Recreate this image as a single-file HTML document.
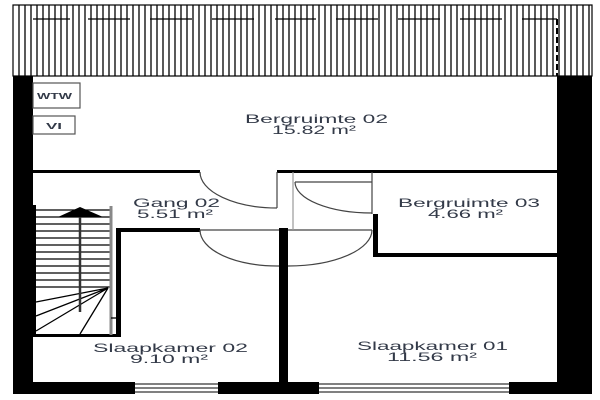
<!DOCTYPE html><html><head><style>body{margin:0;background:#fff}svg{display:block}text{font-family:"Liberation Sans",sans-serif;font-size:12px;fill:#333a48}</style></head><body>
<svg width="600" height="400" viewBox="0 0 600 400" xmlns="http://www.w3.org/2000/svg">
<rect x="0" y="0" width="600" height="400" fill="#fff"/>
<g stroke="#000" stroke-width="1.2" fill="none">
<rect x="13" y="5" width="579" height="71"/>
</g>
<g stroke="#000" stroke-width="1.3">
<path d="M19 5V76M25 5V76M31 5V76M37 5V76M43 5V76M49 5V76M55 5V76M61 5V76M67 5V76M73 5V76M79 5V76M85 5V76M91 5V76M97 5V76M103 5V76M109 5V76M115 5V76M121 5V76M127 5V76M133 5V76M139 5V76M145 5V76M151 5V76M157 5V76M163 5V76M169 5V76M175 5V76M181 5V76M187 5V76M193 5V76M199 5V76M205 5V76M211 5V76M217 5V76M223 5V76M229 5V76M235 5V76M241 5V76M247 5V76M253 5V76M259 5V76M265 5V76M271 5V76M277 5V76M283 5V76M289 5V76M295 5V76M301 5V76M307 5V76M313 5V76M319 5V76M325 5V76M331 5V76M337 5V76M343 5V76M349 5V76M355 5V76M361 5V76M367 5V76M373 5V76M379 5V76M385 5V76M391 5V76M397 5V76M403 5V76M409 5V76M415 5V76M421 5V76M427 5V76M433 5V76M439 5V76M445 5V76M451 5V76M457 5V76M463 5V76M469 5V76M475 5V76M481 5V76M487 5V76M493 5V76M499 5V76M505 5V76M511 5V76M517 5V76M523 5V76M529 5V76M535 5V76M541 5V76M547 5V76M553 5V76M559 5V76M565 5V76M571 5V76M577 5V76M583 5V76M589 5V76"/>
<path d="M33 19H70M88 19H130M150 19H192M212 19H254M275 19H316M336 19H378M398 19H440M460 19H502M522 19H557" />
<path d="M557 19V76" stroke-dasharray="6 3" stroke-width="2"/>
</g>
<rect x="13" y="76" width="20" height="316" fill="#000"/>
<rect x="557" y="76" width="35" height="316" fill="#000"/>
<rect x="13" y="382" width="122" height="12" fill="#000"/>
<rect x="218" y="382" width="101" height="12" fill="#000"/>
<rect x="509" y="382" width="83" height="12" fill="#000"/>
<g stroke="#000" stroke-width="1" fill="none">
<path d="M135 384H218M135 388H218M135 392H218M319 384H509M319 388H509M319 392H509"/>
</g>
<g stroke="#555" stroke-width="1.2" fill="#fff">
<rect x="33" y="83" width="47" height="25"/>
<rect x="33" y="116" width="42" height="18"/>
</g>
<text x="37" y="99" style="font-size:8px;font-weight:bold" textLength="35" lengthAdjust="spacingAndGlyphs">WTW</text>
<text x="46" y="129" style="font-size:8px;font-weight:bold" textLength="16" lengthAdjust="spacingAndGlyphs">VI</text>
<g fill="#000">
<rect x="33" y="170" width="167" height="3"/>
<rect x="277" y="170" width="280" height="3"/>
<rect x="373" y="170" width="4" height="3"/>
<rect x="118" y="228" width="82" height="4"/>
<rect x="116" y="228" width="5" height="109"/>
<rect x="33" y="334" width="88" height="3"/>
<rect x="279" y="228" width="9" height="156"/>
<rect x="373" y="214" width="5" height="42"/>
<rect x="373" y="253" width="184" height="4"/>
<rect x="33" y="205" width="3" height="130"/>
</g>
<g stroke="#444" stroke-width="1.2" fill="none">
<path d="M277 172V208M200 172A77 36 0 0 0 277 208"/>
<path d="M295 182H372M372 172V214M295 182A77 31 0 0 0 372 213"/>
<path d="M200 230H279M200 230A77 36 0 0 0 279 266"/>
<path d="M288 230H372M372 230A84 36 0 0 1 288 266"/>
<path d="M293 172V230" stroke="#999"/>
</g>
<g stroke="#000" stroke-width="1.3" fill="none">
<path d="M36 210H111M36 217H111M36 224H111M36 231H111M36 238H111M36 245H111M36 252H111M36 259H111M36 266H111M36 273H111M36 280H111M36 287H111"/>
<path d="M108 288L36 302M108 288L36 316M108 288L36 331M108 288L80 334"/>
<path d="M80 216V312" stroke-width="2.5" stroke="#333"/>
<path d="M111 206V335" stroke="#888" stroke-width="3"/>
<path d="M111 318H116"/>
</g>
<polygon points="58,217 80,207 103,217" fill="#000"/>
<g lengthAdjust="spacingAndGlyphs">
<text x="245" y="123" textLength="143" lengthAdjust="spacingAndGlyphs">Bergruimte 02</text>
<text x="272" y="134" textLength="84" lengthAdjust="spacingAndGlyphs">15.82 m²</text>
<text x="133" y="207" textLength="87" lengthAdjust="spacingAndGlyphs">Gang 02</text>
<text x="137" y="218" textLength="76" lengthAdjust="spacingAndGlyphs">5.51 m²</text>
<text x="398" y="207" textLength="142" lengthAdjust="spacingAndGlyphs">Bergruimte 03</text>
<text x="428" y="218" textLength="75" lengthAdjust="spacingAndGlyphs">4.66 m²</text>
<text x="93" y="352" textLength="155" lengthAdjust="spacingAndGlyphs">Slaapkamer 02</text>
<text x="130" y="363" textLength="78" lengthAdjust="spacingAndGlyphs">9.10 m²</text>
<text x="357" y="350" textLength="151" lengthAdjust="spacingAndGlyphs">Slaapkamer 01</text>
<text x="387" y="361" textLength="90" lengthAdjust="spacingAndGlyphs">11.56 m²</text>
</g>
</svg>
</body></html>
